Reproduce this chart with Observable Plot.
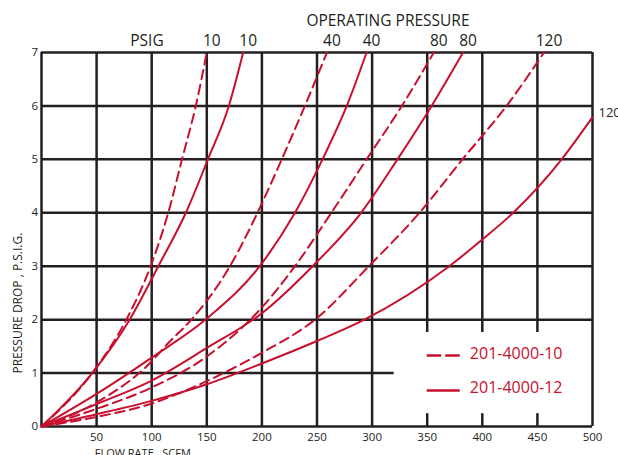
<!DOCTYPE html>
<html><head><meta charset="utf-8">
<script src="https://cdn.jsdelivr.net/npm/d3@7"></script>
<script src="https://cdn.jsdelivr.net/npm/@observablehq/plot@0.6"></script>
<style>body{margin:0;background:#fff;}</style>
</head><body><div id="chart"></div>
<script>
// ---- data ----
const models = ["201-4000-10", "201-4000-12"];   // dashed, solid
const pressureLabels = ["10", "40", "80", "120"];
const xTicks = [50, 100, 150, 200, 250, 300, 350, 400, 450, 500];
const yTicks = [0, 1, 2, 3, 4, 5, 6, 7];

// 201-4000-10 (dashed)
const d10Flow = [0, 46, 77, 99, 115, 127.5, 140, 150];
const d10Drop = [0, 1, 2, 3, 4, 5, 6, 7];
const d40Flow = [0, 50, 100, 114, 136, 171, 196, 218, 239, 259];
const d40Drop = [0, 0.45, 1.22, 1.54, 2, 3, 4, 5, 6, 7];
const d80Flow = [0, 50, 100, 150, 200, 230, 263, 295, 327, 356];
const d80Drop = [0, 0.33, 0.73, 1.31, 2.23, 3, 4, 5, 6, 7];
const d120Flow = [0, 50, 100, 150, 200, 250, 297, 343, 382, 422, 456];
const d120Drop = [0, 0.18, 0.43, 0.85, 1.38, 2.03, 3, 4, 5, 6, 7];

// 201-4000-12 (solid)
const s10Flow = [0, 46, 80, 106, 131, 151, 170, 183];
const s10Drop = [0, 1, 2, 3, 4, 5, 6, 7];
const s40Flow = [0, 50, 100, 150, 198, 230, 255, 277, 295];
const s40Drop = [0, 0.61, 1.29, 2.02, 3, 4, 5, 6, 7];
const s80Flow = [0, 50, 100, 150, 200, 246, 290, 323, 354, 382.5];
const s80Drop = [0, 0.42, 0.86, 1.47, 2.12, 3, 4, 5, 6, 7];
const s120Flow = [0, 50, 100, 150, 200, 250, 293, 370, 400, 428, 472, 500];
const s120Drop = [0, 0.23, 0.48, 0.79, 1.18, 1.6, 2, 3, 3.5, 4, 5, 5.79];

const curves = [
  {model: models[0], psig: pressureLabels[0], flow: d10Flow, drop: d10Drop},
  {model: models[1], psig: pressureLabels[0], flow: s10Flow, drop: s10Drop},
  {model: models[0], psig: pressureLabels[1], flow: d40Flow, drop: d40Drop},
  {model: models[1], psig: pressureLabels[1], flow: s40Flow, drop: s40Drop},
  {model: models[0], psig: pressureLabels[2], flow: d80Flow, drop: d80Drop},
  {model: models[1], psig: pressureLabels[2], flow: s80Flow, drop: s80Drop},
  {model: models[0], psig: pressureLabels[3], flow: d120Flow, drop: d120Drop},
  {model: models[1], psig: pressureLabels[3], flow: s120Flow, drop: s120Drop}
];
const rows = curves.flatMap(c => c.flow.map((f, i) => ({
  model: c.model, psig: c.psig, key: c.model + "-" + c.psig, flow: f, drop: c.drop[i]
})));
const ends = curves.map(c => ({model: c.model, psig: c.psig,
  flow: c.flow[c.flow.length - 1], drop: c.drop[c.drop.length - 1]}));
const topEnds = ends.filter(e => e.drop >= 7);
const sideEnds = ends.filter(e => e.drop < 7);

// ---- styling ----
const RED = "#c8102e";
const INK = "#231f20";
const GW = 2.5;
const dashedRows = rows.filter(r => r.model === models[0]);
const solidRows = rows.filter(r => r.model === models[1]);
const partialX = [350, 400, 450];
const fullX = [0, ...xTicks.filter(v => !partialX.includes(v))];
const fullY = yTicks.filter(v => v !== 1);

const chart = Plot.plot({
  width: 618, height: 455,
  marginLeft: 41, marginRight: 26, marginTop: 52, marginBottom: 29,
  style: {fontFamily: "'Open Sans', sans-serif", color: INK, background: "#fff", overflow: "visible"},
  x: {domain: [0, 500]},
  y: {domain: [0, 7]},
  marks: [
    // grid
    Plot.ruleX(fullX, {y1: 0, y2: 7, stroke: INK, strokeWidth: GW}),
    Plot.ruleX(partialX, {y1: 1.76, y2: 7, stroke: INK, strokeWidth: GW}),
    Plot.ruleX(partialX, {y1: 0, y2: 0.24, stroke: INK, strokeWidth: GW}),
    Plot.ruleY(fullY, {x1: 0, x2: 500, stroke: INK, strokeWidth: GW}),
    Plot.ruleY([1], {x1: 0, x2: 320, stroke: INK, strokeWidth: GW}),
    // axes
    Plot.axisX(xTicks, {tickSize: 0, tickPadding: 6.5, fontSize: 11.5, label: null, tickFormat: d => String(d)}),
    Plot.axisY(yTicks, {tickSize: 0, tickPadding: 3.5, fontSize: 11.5, label: null, tickFormat: d => String(d)}),
    // curves
    Plot.line(dashedRows, {x: "flow", y: "drop", z: "key", stroke: RED, strokeWidth: 2,
      strokeDasharray: "9.5,5.5", curve: "monotone-x"}),
    Plot.line(solidRows, {x: "flow", y: "drop", z: "key", stroke: RED, strokeWidth: 2,
      curve: "monotone-x"}),
    // pressure labels at curve ends
    Plot.text(topEnds, {x: "flow", y: "drop", text: "psig", dx: 5, dy: -6.3,
      lineAnchor: "bottom", textAnchor: "middle", fontSize: 15.5, fill: INK}),
    Plot.text(sideEnds, {x: "flow", y: "drop", text: "psig", dx: 6,
      lineAnchor: "bottom", textAnchor: "start", fontSize: 13, fill: INK}),
    // titles
    Plot.text(["OPERATING PRESSURE"], {x: 314.4, y: 7.49, text: d => d,
      lineAnchor: "bottom", textAnchor: "middle", fontSize: 15.5, fill: INK}),
    Plot.text(["PSIG"], {x: 95.7, y: 7.118, text: d => d,
      lineAnchor: "bottom", textAnchor: "middle", fontSize: 15.5, fill: INK}),
    Plot.text(["PRESSURE DROP , P.S.I.G."], {x: -21.1, y: 2.31, text: d => d, rotate: -90,
      textAnchor: "middle", fontSize: 12, fill: INK}),
    Plot.text(["FLOW RATE , SCFM"], {x: 48.4, y: -0.575, text: d => d,
      lineAnchor: "bottom", textAnchor: "start", fontSize: 11, fill: INK}),
    // legend
    Plot.ruleY([1.329], {x1: 350, x2: 380, stroke: RED, strokeWidth: 2.5, strokeDasharray: "14.5,4"}),
    Plot.ruleY([0.674], {x1: 350, x2: 380, stroke: RED, strokeWidth: 2.5}),
    Plot.text([models[0]], {x: 388.7, y: 1.267, text: d => d, lineAnchor: "bottom",
      textAnchor: "start", fontSize: 16, fill: RED}),
    Plot.text([models[1]], {x: 388.7, y: 0.631, text: d => d, lineAnchor: "bottom",
      textAnchor: "start", fontSize: 16, fill: RED})
  ]
});
document.getElementById("chart").append(chart);
</script>
</body></html>
